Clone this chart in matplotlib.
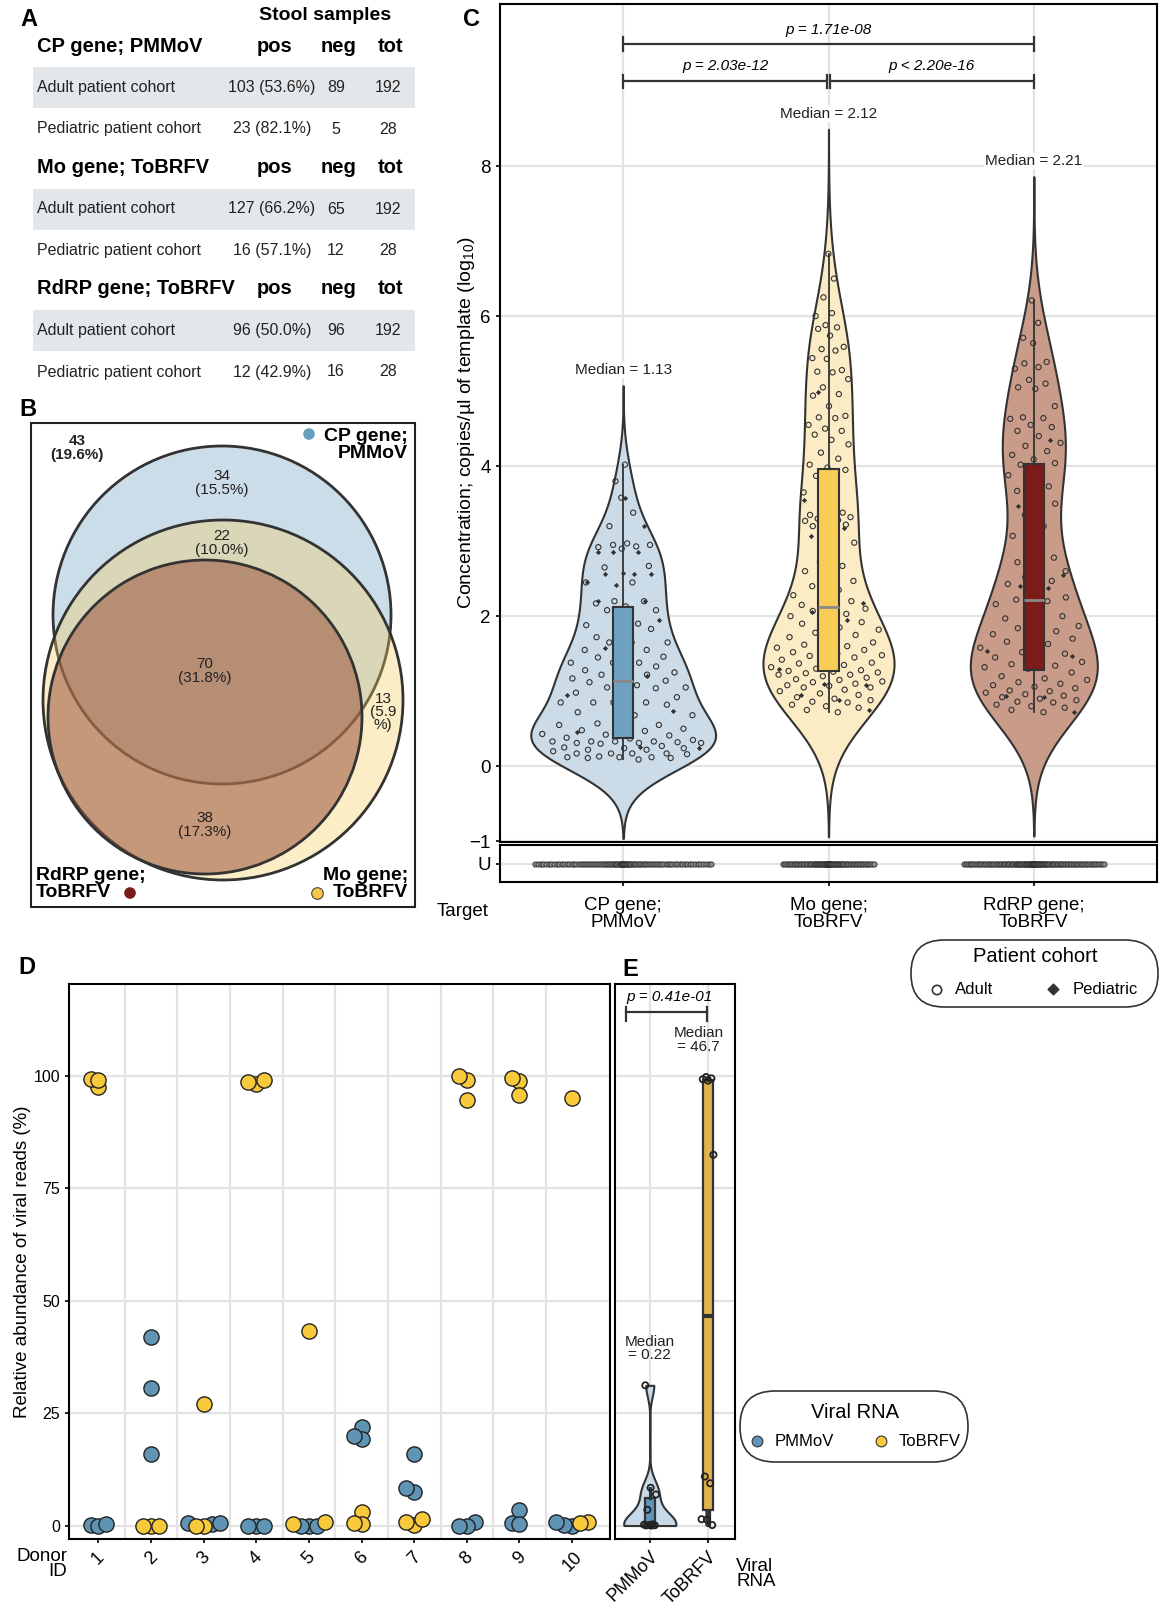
import numpy as np
import matplotlib
matplotlib.use("Agg")
import matplotlib.pyplot as plt
from matplotlib.patches import Circle, FancyBboxPatch, Rectangle

plt.rcParams['font.family'] = ['Liberation Sans', 'DejaVu Sans']
plt.rcParams['mathtext.fontset'] = 'custom'
plt.rcParams['mathtext.rm'] = 'Liberation Sans'
plt.rcParams['mathtext.it'] = 'Liberation Sans:italic'

W, H = 1159, 1607

# ---------------- A: stool samples table
genes = ["CP gene; PMMoV", "Mo gene; ToBRFV", "RdRP gene; ToBRFV"]
cohorts = ["Adult patient cohort", "Pediatric patient cohort"]
n_pos = [[103, 23], [127, 16], [96, 12]]
pct_pos = [[53.6, 82.1], [66.2, 57.1], [50.0, 42.9]]
n_tot = [192, 28]

# ---------------- B: venn counts (none, CP only, CP&Mo, all, Mo only, Mo&RdRP)
venn_n = [43, 34, 22, 70, 13, 38]
venn_pct = [19.6, 15.5, 10.0, 31.8, 5.9, 17.3]

# ---------------- C: concentrations (log10 copies/ul)
targets = ["CP gene;\nPMMoV", "Mo gene;\nToBRFV", "RdRP gene;\nToBRFV"]
cp_adult = [0.09, 0.11, 0.11, 0.12, 0.12, 0.12, 0.13, 0.16, 0.17, 0.17, 0.17, 0.17, 0.2, 0.22, 0.22,
            0.24, 0.24, 0.25, 0.27, 0.3, 0.31, 0.31, 0.31, 0.32, 0.33, 0.33, 0.33, 0.33, 0.35, 0.37,
            0.38, 0.41, 0.42, 0.43, 0.47, 0.48, 0.5, 0.53, 0.55, 0.55, 0.57, 0.68, 0.68, 0.72, 0.82,
            0.85, 0.85, 0.85, 0.85, 0.92, 0.95, 0.98, 1.04, 1.05, 1.05, 1.08, 1.12,
            1.14, 1.17, 1.17, 1.22, 1.22, 1.25, 1.28, 1.28, 1.33, 1.38, 1.38, 1.38, 1.45, 1.46, 1.5,
            1.55, 1.55, 1.65, 1.65, 1.65, 1.72, 1.83, 1.85, 1.88, 1.9, 2.08, 2.08,
            2.13, 2.17, 2.2, 2.2, 2.45, 2.45, 2.65, 2.67, 2.9, 2.92, 2.93, 2.95, 2.95, 2.97, 3.2,
            3.38, 3.58, 3.8, 4.02]
cp_ped = [0.24, 0.26, 0.45, 0.74, 0.85, 0.95, 1.2, 1.58, 1.95, 1.95, 2.2, 2.2, 2.42, 2.45, 2.56,
          2.56, 2.56, 2.58, 2.85, 2.85, 2.85, 3.2, 3.58]
mo_adult = [0.72, 0.75, 0.78, 0.8, 0.82, 0.85, 0.86, 0.88, 0.9, 0.92, 0.95, 0.97, 1.0, 1.02, 1.05,
            1.05, 1.07, 1.08, 1.1, 1.12, 1.13, 1.15, 1.16, 1.18, 1.2, 1.22, 1.22, 1.24, 1.25, 1.26, 1.27,
            1.28, 1.3, 1.32, 1.35, 1.37, 1.38, 1.4, 1.42, 1.45, 1.47, 1.48, 1.5, 1.52, 1.55, 1.55,
            1.58, 1.6, 1.62, 1.65, 1.68, 1.72, 1.75, 1.78, 1.82, 1.85, 1.9, 1.92, 1.96, 2.0, 2.03,
            2.07, 2.1,
            2.12, 2.15, 2.2, 2.22, 2.28, 2.35, 2.4, 2.47, 2.54, 2.6, 2.67, 2.72, 2.98, 3.1, 3.2,
            3.22, 3.25, 3.27, 3.28, 3.3, 3.32, 3.33, 3.35, 3.38, 3.54, 3.65, 3.8, 3.87,
            3.95, 3.98, 4.02, 4.1, 4.18, 4.29, 4.35, 4.42, 4.47, 4.5, 4.55, 4.64, 4.65, 4.67, 4.8,
            4.94, 4.96, 5.05, 5.16, 5.25, 5.26, 5.28, 5.43, 5.44, 5.54, 5.56, 5.59, 5.74, 5.83,
            5.85, 5.88, 6.0, 6.04, 6.25, 6.5, 6.83]
mo_ped = [0.75, 0.88, 0.95, 1.08, 1.1, 1.3, 1.95, 2.05, 2.17, 2.85, 3.07, 3.18, 3.3, 3.55, 3.9, 4.99]
rd_adult = [0.72, 0.75, 0.78, 0.8, 0.82, 0.85, 0.86, 0.88, 0.9, 0.92, 0.94, 0.96, 0.98, 1.0, 1.01,
            1.04, 1.06, 1.08, 1.1, 1.12, 1.15, 1.17, 1.2, 1.25,
            1.3, 1.32, 1.34, 1.36, 1.39, 1.42, 1.45, 1.5, 1.52, 1.58, 1.63, 1.66, 1.7, 1.73, 1.76,
            1.8, 1.84, 1.87, 1.92, 1.97, 2.0, 2.07, 2.16, 2.2,
            2.22, 2.25, 2.3, 2.43, 2.47, 2.52, 2.6, 2.62, 2.72, 2.78, 2.92, 3.07, 3.2, 3.35, 3.5,
            3.62, 3.67, 3.73, 3.78, 3.88, 3.95, 4.02,
            4.04, 4.09, 4.15, 4.2, 4.27, 4.31, 4.4, 4.47, 4.52, 4.55, 4.63, 4.64, 4.65, 4.8, 5.03,
            5.05, 5.1, 5.15, 5.3, 5.32, 5.37, 5.39, 5.64, 5.71, 5.91, 6.21]
rd_ped = [0.72, 0.92, 0.93, 1.47, 1.49, 1.53, 2.38, 2.4, 2.55, 2.88, 3.47, 4.35]
p_pairs = ["p = 2.03e-12", "p < 2.20e-16", "p = 1.71e-08"]

# ---------------- D: relative abundance per donor (3 samples each)
donors = list(range(1, 11))
d_pmmov = [[0.2, 0.0, 0.3], [42.0, 30.5, 16.0], [0.5, 0.3, 0.6], [0.0, 0.0, 0.0], [0.0, 0.0, 0.0],
           [22.0, 19.3, 20.0], [7.5, 16.0, 8.3], [0.7, 0.0, 0.0], [0.5, 3.5, 0.3], [0.0, 0.2, 0.8]]
d_tobrfv = [[97.5, 99.3, 99.2], [0.0, 0.0, 0.0], [27.0, 0.0, 0.0], [98.3, 98.6, 99.2], [43.3, 0.3, 0.7],
            [3.0, 0.3, 0.5], [0.2, 0.7, 1.5], [99.2, 94.7, 100.0], [99.0, 95.8, 99.5], [95.2, 0.8, 0.6]]

# ---------------- E
e_names = ["PMMoV", "ToBRFV"]
e_pmmov = [0.0, 0.02, 0.05, 0.1, 0.2, 0.24, 3.5, 6.9, 8.4, 31.2]
e_tobrfv = [0.1, 1.3, 1.4, 9.4, 10.9, 82.5, 99.0, 99.3, 99.5, 99.8]
p_e = "p = 0.41e-01"

c_blue, c_yel, c_red = '#6a9ec0', '#f7c843', '#7b1c18'
grid_c = '#e3e3e3'
dark = '#333333'
golden = 0.6180339887


def px_axes(l, t, r, b):
    return fig.add_axes([l / W, 1 - b / H, (r - l) / W, (b - t) / H])


def nrd0(v):
    v = np.asarray(v, float)
    q75, q25 = np.percentile(v, [75, 25])
    return 0.9 * min(v.std(ddof=1), (q75 - q25) / 1.34) * len(v) ** -0.2


def kde(v, bw, g):
    z = (g[:, None] - np.asarray(v)[None, :]) / bw
    return np.exp(-0.5 * z ** 2).sum(1) / (len(v) * bw * np.sqrt(2 * np.pi))


def gseq(n, shift=0.0):
    return ((np.arange(1, n + 1) * golden + shift) % 1.0) * 2 - 1


fig = plt.figure(figsize=(W / 100, H / 100), dpi=100)
ov = fig.add_axes([0, 0, 1, 1])
ov.set_xlim(0, W)
ov.set_ylim(H, 0)
ov.axis('off')

# ================= A
ov.text(20, 20, "A", fontsize=17, fontweight='bold', va='center')
ov.text(325, 15, "Stool samples", fontsize=14, fontweight='bold', ha='center', va='center')
col_x = [272, 336, 388]
for gi, gene in enumerate(genes):
    y0 = 46 + gi * 121.5
    ov.text(37, y0, gene, fontsize=14.5, fontweight='bold', va='center')
    for cx, lab in zip(col_x, ["pos", "neg", "tot"]):
        ov.text(cx + 3, y0, lab, fontsize=14.5, fontweight='bold', ha='center', va='center')
    for ci, coh in enumerate(cohorts):
        yr = y0 + 41.5 + ci * 41.5
        if ci == 0:
            ov.add_patch(Rectangle((33, yr - 20.5), 382, 41, facecolor='#e4e7ea', edgecolor='none'))
        ov.text(37, yr, coh, fontsize=11.5, va='center', color='#222222')
        ov.text(col_x[0], yr, f"{n_pos[gi][ci]} ({pct_pos[gi][ci]:.1f}%)", fontsize=11.5,
                ha='center', va='center', color='#222222')
        ov.text(col_x[1], yr, str(n_tot[ci] - n_pos[gi][ci]), fontsize=11.5, ha='center',
                va='center', color='#222222')
        ov.text(col_x[2], yr, str(n_tot[ci]), fontsize=11.5, ha='center', va='center', color='#222222')

# ================= B
ov.text(19, 410, "B", fontsize=17, fontweight='bold', va='center')
ov.add_patch(Rectangle((31, 423), 384, 484, facecolor='none', edgecolor='#222222', lw=1.5))
ov.add_patch(Circle((222, 615), 169, facecolor=(0.435, 0.627, 0.765, 0.35), edgecolor='#333333', lw=2))
ov.add_patch(Circle((223, 700), 180, facecolor=(0.965, 0.80, 0.36, 0.35), edgecolor='#333333', lw=2))
ov.add_patch(Circle((205, 717), 157, facecolor=(0.60, 0.32, 0.235, 0.55), edgecolor='#333333', lw=2))
venn_xy = [(77, 448), (222, 483), (222, 543), (205, 671), (383, 712), (205, 825)]
for k, (n, pc) in enumerate(zip(venn_n, venn_pct)):
    if k == 4:
        lab = f"{n}\n({pc:.1f}\n%)"
    else:
        lab = f"{n}\n({pc:.1f}%)"
    ov.text(venn_xy[k][0], venn_xy[k][1], lab, fontsize=11, ha='center', va='center',
            linespacing=0.95, fontweight='bold' if k == 0 else 'normal', color='#222222')
ov.text(408, 445, "CP gene;\nPMMoV", fontsize=14, fontweight='bold', ha='right', va='center',
        linespacing=0.95)
ov.scatter([309], [434], s=70, color=c_blue, edgecolor='none')
ov.text(36, 884, "RdRP gene;\nToBRFV", fontsize=14, fontweight='bold', ha='left', va='center',
        linespacing=0.95)
ov.scatter([130], [893], s=70, color=c_red, edgecolor='none')
ov.text(408, 884, "Mo gene;\nToBRFV", fontsize=14, fontweight='bold', ha='right', va='center',
        linespacing=0.95)
ov.scatter([317], [893], s=70, color=c_yel, edgecolor='#444444', lw=0.8)

# ================= C
ov.text(463, 20, "C", fontsize=17, fontweight='bold', va='center')
axc = px_axes(500, 4, 1157, 842)
axu = px_axes(500, 845, 1157, 882)
cpos = [1, 2, 3]
groups = [(cp_adult, cp_ped), (mo_adult, mo_ped), (rd_adult, rd_ped)]
viol_fill = ['#cbdbe7', '#fcecc6', '#c99b89']
box_fill = ['#6fa1c2', '#f9cd55', '#7b1c18']
grids, dens = [], []
for a, p in groups:
    v = np.array(a + p)
    bw = nrd0(v)
    g = np.linspace(v.min() - 3 * bw, v.max() + 3 * bw, 600)
    grids.append(g)
    dens.append(kde(v, bw, g))
dmax = max(d.max() for d in dens)
for i, ((a, p), g, d) in enumerate(zip(groups, grids, dens)):
    half = 0.45 * d / dmax
    axc.fill_betweenx(g, cpos[i] - half, cpos[i] + half, facecolor=viol_fill[i],
                      edgecolor=dark, lw=1.5, zorder=2)
    v = np.array(a + p)
    axc.boxplot([v], positions=[cpos[i]], widths=0.1, patch_artist=True, showfliers=False,
                showcaps=False, manage_ticks=False, zorder=4,
                boxprops=dict(facecolor=box_fill[i], edgecolor=dark, lw=1.5),
                whiskerprops=dict(color=dark, lw=1.3),
                medianprops=dict(color='#8a8a8a', lw=2))
    for vals, mk, sh, kw in [(a, 'o', 0.0, dict(s=14, facecolor='none', edgecolor=dark, lw=0.8)),
                             (p, 'D', 0.37, dict(s=7, color=dark, lw=0))]:
        vals = np.array(vals)
        hh = np.interp(vals, g, half)
        xs = cpos[i] + 0.9 * hh * gseq(len(vals), sh)
        axc.scatter(xs, vals, marker=mk, zorder=3, **kw)
    axc.text(cpos[i], g.max() + 0.21, f"Median = {np.median(v):.2f}", fontsize=11, ha='center',
             va='center', color='#222222', zorder=5,
             bbox=dict(facecolor='white', edgecolor='none', pad=1))


def bracket(ax, x0, x1, y, h):
    ax.plot([x0, x1], [y, y], color=dark, lw=1.6, zorder=5, solid_capstyle='butt')
    ax.plot([x0, x0], [y - h, y + h], color=dark, lw=1.6, zorder=5)
    ax.plot([x1, x1], [y - h, y + h], color=dark, lw=1.6, zorder=5)


bracket(axc, 1, 1.992, 9.13, 0.09)
bracket(axc, 2.008, 3, 9.13, 0.09)
bracket(axc, 1, 3, 9.63, 0.09)
axc.text(1.5, 9.34, p_pairs[0], fontsize=11, style='italic', ha='center', va='center')
axc.text(2.5, 9.34, p_pairs[1], fontsize=11, style='italic', ha='center', va='center')
axc.text(2.0, 9.82, p_pairs[2], fontsize=11, style='italic', ha='center', va='center')

axc.set_xlim(0.4, 3.6)
axc.set_ylim(-1.01, 10.16)
axc.set_yticks([-1, 0, 2, 4, 6, 8])
axc.set_xticks(cpos)
axc.tick_params(axis='x', length=0, labelbottom=False)
axc.tick_params(axis='y', labelsize=13.5, length=3, width=1.2)
axc.grid(color=grid_c, lw=1.6)
axc.set_axisbelow(True)
for s in axc.spines.values():
    s.set_linewidth(1.5)
axc.set_ylabel(r"Concentration; copies/µl of template (log$_{10}$)", fontsize=14, labelpad=-5)

# undetected row
u_counts = [sum(n_tot) - sum(r) for r in n_pos]
u_width = [0.43, 0.22, 0.34]
for i, n in enumerate(u_counts):
    t = np.linspace(-1, 1, n)
    xs = cpos[i] + u_width[i] * np.sign(t) * np.abs(t) ** 1.5
    axu.scatter(xs, np.zeros(n), s=14, facecolor='#8c8c8c', edgecolor='#2a2a2a', lw=0.6, zorder=3)
axu.set_xlim(0.4, 3.6)
axu.set_ylim(-1, 1)
axu.set_yticks([0])
axu.set_yticklabels(["U"])
axu.set_xticks(cpos)
axu.set_xticklabels(targets, fontsize=13.5, linespacing=0.95)
axu.tick_params(axis='y', labelsize=13.5, length=3, width=1.2)
axu.tick_params(axis='x', length=3, width=1.2, pad=8)
axu.grid(color=grid_c, lw=1.6)
axu.set_axisbelow(True)
for s in axu.spines.values():
    s.set_linewidth(1.5)
ov.text(437, 912, "Target", fontsize=13.5, va='center')

# patient cohort legend
ov.add_patch(FancyBboxPatch((911, 940), 247, 67, boxstyle="round,pad=0,rounding_size=33",
                            facecolor='white', edgecolor='#333333', lw=1.2))
ov.text(1035, 956, "Patient cohort", fontsize=14.5, ha='center', va='center')
ov.scatter([937], [990], s=45, facecolor='none', edgecolor=dark, lw=1.2)
ov.text(955, 990, "Adult", fontsize=12, va='center')
ov.scatter([1053], [989], s=30, marker='D', color=dark)
ov.text(1073, 990, "Pediatric", fontsize=12, va='center')

# ================= D
ov.text(18, 967, "D", fontsize=17, fontweight='bold', va='center')
axd = px_axes(69, 984, 610, 1539)
xpx, ypx = 52.6, 4.5


def swarm(vals, step=0.15, dist=7.5):
    vals = np.asarray(vals, float)
    cands = [0.0] + [s * k * step for k in range(1, 8) for s in (-1, 1)]
    placed, offs = [], np.zeros(len(vals))
    for idx in np.argsort(vals, kind='stable'):
        y = vals[idx]
        for c in cands:
            if all(np.hypot((c - ox) * xpx, (y - oy) * ypx) >= dist for ox, oy in placed):
                break
        offs[idx] = c
        placed.append((c, y))
    return offs


for di, dn in enumerate(donors):
    vals = d_pmmov[di] + d_tobrfv[di]
    offs = swarm(vals)
    axd.scatter(dn + offs[:3], d_pmmov[di], s=120, facecolor='#5f94b5', edgecolor='#222222',
                lw=1, zorder=3)
    axd.scatter(dn + offs[3:], d_tobrfv[di], s=120, facecolor='#f9c93c', edgecolor='#222222',
                lw=1, zorder=3)
axd.set_xlim(0.44, 10.72)
axd.set_ylim(-3, 120.5)
axd.set_yticks([0, 25, 50, 75, 100])
axd.set_xticks(donors)
axd.set_xticklabels([str(d) for d in donors], rotation=45, ha='center', va='top')
axd.set_xticks([d + 0.5 for d in donors[:-1]], minor=True)
axd.tick_params(axis='x', which='minor', length=0)
axd.tick_params(axis='both', which='major', labelsize=11.5, length=3, width=1.2)
axd.tick_params(axis='x', which='major', labelsize=13, pad=4)
axd.grid(axis='y', color=grid_c, lw=1.6)
axd.grid(axis='x', which='minor', color=grid_c, lw=1.6)
axd.set_axisbelow(True)
for s in axd.spines.values():
    s.set_linewidth(1.5)
axd.set_ylabel("Relative abundance of viral reads (%)", fontsize=13.5, labelpad=2)
ov.text(67, 1564, "Donor\nID", fontsize=13.5, ha='right', va='center', linespacing=0.9)

# ================= E
ov.text(622, 969, "E", fontsize=17, fontweight='bold', va='center')
axe = px_axes(615, 984, 735, 1539)
e_data = [np.array(e_pmmov), np.array(e_tobrfv)]
e_vfill = ['#c6d9e8', '#f3d98a']
e_bfill = ['#5d95b8', '#e2b44e']
eg, ed = [], []
for v in e_data:
    bw = nrd0(v)
    g = np.linspace(v.min(), v.max(), 400)
    eg.append(g)
    ed.append(kde(v, bw, g))
edmax = max(d.max() for d in ed)
for i, (v, g, d) in enumerate(zip(e_data, eg, ed)):
    half = 0.45 * d / edmax
    axe.fill_betweenx(g, i + 1 - half, i + 1 + half, facecolor=e_vfill[i], edgecolor=dark,
                      lw=1.5, zorder=2)
    axe.boxplot([v], positions=[i + 1], widths=0.18, patch_artist=True, showfliers=False,
                showcaps=False, manage_ticks=False, zorder=3,
                boxprops=dict(facecolor=e_bfill[i], edgecolor=dark, lw=1.6),
                whiskerprops=dict(color=dark, lw=2.2),
                medianprops=dict(color=dark, lw=3))
    axe.scatter(i + 1 + 0.12 * gseq(len(v), 0.2 * i), v, s=20, facecolor='none',
                edgecolor='#222222', lw=1.3, zorder=4)
axe.text(1.0, 39.4, f"Median\n= {np.median(e_data[0]):.2f}", fontsize=11, ha='center',
         va='center', linespacing=0.95, color='#222222')
axe.text(1.84, 108, f"Median\n= {np.median(e_data[1]):.1f}", fontsize=11, ha='center',
         va='center', linespacing=0.95, color='#222222')
axe.plot([0.59, 1.98], [114.2, 114.2], color=dark, lw=1.6)
axe.plot([0.59, 0.59], [112.2, 115.4], color=dark, lw=1.6)
axe.plot([1.98, 1.98], [112.2, 115.4], color=dark, lw=1.6)
axe.text(0.6, 117.6, p_e, fontsize=11, style='italic', ha='left', va='center')
axe.set_xlim(0.4, 2.47)
axe.set_ylim(-3, 120.5)
axe.set_yticks([0, 25, 50, 75, 100])
axe.set_yticklabels([])
axe.tick_params(axis='y', length=0)
axe.set_xticks([1, 2])
axe.set_xticklabels(e_names, rotation=45, ha='right', rotation_mode='anchor', fontsize=13)
axe.tick_params(axis='x', length=3, width=1.2)
axe.grid(color=grid_c, lw=1.6)
axe.set_axisbelow(True)
for s in axe.spines.values():
    s.set_linewidth(1.5)
ov.text(736, 1574, "Viral\nRNA", fontsize=13.5, ha='left', va='center', linespacing=0.9)

# viral RNA legend
ov.add_patch(FancyBboxPatch((740, 1391), 228, 71, boxstyle="round,pad=0,rounding_size=35",
                            facecolor='white', edgecolor='#333333', lw=1.2))
ov.text(855, 1413, "Viral RNA", fontsize=14.5, ha='center', va='center')
ov.scatter([757], [1441], s=60, facecolor='#5f94b5', edgecolor='#333333', lw=0.8)
ov.text(775, 1441, "PMMoV", fontsize=12, va='center')
ov.scatter([881], [1441], s=60, facecolor='#f9c93c', edgecolor='#333333', lw=0.8)
ov.text(899, 1441, "ToBRFV", fontsize=12, va='center')

fig.savefig("out.png", dpi=100)
